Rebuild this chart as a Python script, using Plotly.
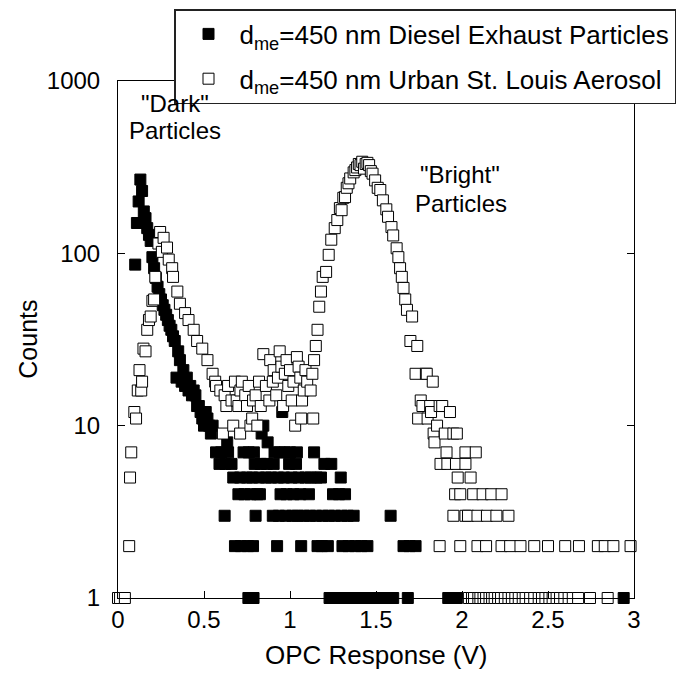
import plotly.graph_objects as go

# Diesel exhaust particles (d_me = 450 nm): OPC response (V) and counts per channel
diesel_v = [
    0.100, 0.110, 0.120, 0.130, 0.140, 0.150, 0.160, 0.170, 0.180, 0.190,
    0.200, 0.210, 0.220, 0.230, 0.240, 0.250, 0.260, 0.270, 0.280, 0.290,
    0.300, 0.310, 0.320, 0.330, 0.340, 0.350, 0.360, 0.370, 0.380, 0.390,
    0.400, 0.410, 0.420, 0.430, 0.440, 0.450, 0.460, 0.470, 0.480, 0.490,
    0.500, 0.510, 0.520, 0.530, 0.540, 0.550,
    0.570, 0.590, 0.600, 0.620, 0.625, 0.635, 0.640, 0.660, 0.670, 0.680,
    0.700, 0.710, 0.715, 0.730, 0.735, 0.750, 0.755, 0.758, 0.760, 0.770,
    0.780, 0.785, 0.788, 0.790, 0.795, 0.800, 0.810, 0.820, 0.825, 0.830,
    0.835, 0.845, 0.860, 0.865, 0.870, 0.890, 0.900, 0.905, 0.910, 0.925,
    0.930, 0.935, 0.940, 0.945, 0.955, 0.965, 0.970, 0.975, 0.980, 0.995,
    1.000, 1.010, 1.015, 1.020, 1.035, 1.040, 1.045, 1.050, 1.060, 1.065,
    1.080, 1.090, 1.110, 1.115, 1.120, 1.140, 1.150, 1.155, 1.160, 1.180,
    1.185, 1.190, 1.200, 1.220, 1.225, 1.230, 1.240, 1.250, 1.260, 1.270,
    1.285, 1.295, 1.300, 1.305, 1.310, 1.320, 1.335, 1.340, 1.350, 1.370,
    1.380, 1.390, 1.415, 1.430, 1.450, 1.470, 1.510, 1.550, 1.585, 1.600,
    1.660, 1.685, 1.695, 1.730, 1.920, 1.945, 1.970, 2.940,
]
diesel_counts = [
    86, 150, 200, 268, 230, 175, 160, 140, 128, 118,
    95, 82, 72, 64, 58, 54, 50, 47, 44, 41,
    38, 36, 33, 31, 19, 27, 24, 18, 21, 17,
    19, 16, 17, 15, 16, 15, 13, 13, 12, 11,
    10, 12, 11, 10, 9, 10,
    7, 6, 7, 3, 6, 8, 7, 6, 5, 2,
    4, 5, 2, 7, 4, 5, 2, 1, 7, 4,
    5, 2, 1, 7, 6, 3, 4, 5, 4, 6,
    9, 10, 5, 6, 8, 5, 3, 6, 7, 2,
    5, 3, 7, 4, 12, 5, 7, 3, 4, 6,
    7, 5, 3, 4, 6, 7, 3, 5, 4, 2,
    3, 5, 4, 3, 5, 7, 3, 5, 2, 5,
    2, 3, 6, 2, 3, 1, 6, 4, 3, 1,
    4, 5, 3, 2, 1, 4, 3, 2, 1, 3,
    2, 1, 2, 1, 2, 1, 1, 1, 3, 1,
    2, 1, 2, 2, 1, 1, 1, 1,
]

# Urban St. Louis aerosol (d_me = 450 nm): OPC response (V) and counts per channel
urban_v = [
    0.000, 0.012, 0.040, 0.065, 0.070, 0.077, 0.095, 0.105, 0.115, 0.125,
    0.135, 0.140, 0.148, 0.160, 0.170, 0.180, 0.190, 0.200, 0.210, 0.217,
    0.235, 0.245, 0.255, 0.265, 0.285, 0.295, 0.315, 0.320, 0.345, 0.360,
    0.390, 0.410, 0.440, 0.460, 0.490, 0.520, 0.550, 0.565, 0.570, 0.595,
    0.610, 0.620, 0.630, 0.640, 0.660, 0.670, 0.680, 0.690, 0.700, 0.710,
    0.712, 0.720, 0.740, 0.750, 0.760, 0.770, 0.780, 0.785, 0.800, 0.810,
    0.820, 0.830, 0.845, 0.860, 0.880, 0.885, 0.900, 0.905, 0.920, 0.930,
    0.940, 0.950, 0.960, 0.970, 0.980, 0.990, 1.000, 1.010, 1.020, 1.030,
    1.040, 1.050, 1.060, 1.065, 1.070, 1.080, 1.090, 1.100, 1.120, 1.130,
    1.135, 1.140, 1.150, 1.160, 1.170, 1.180, 1.190, 1.210, 1.225, 1.240,
    1.260, 1.275, 1.290, 1.300, 1.310, 1.320, 1.330, 1.340, 1.350, 1.370,
    1.380, 1.390, 1.400, 1.410, 1.420, 1.430, 1.440, 1.450, 1.460, 1.470,
    1.480, 1.495, 1.510, 1.525, 1.540, 1.560, 1.570, 1.590, 1.600, 1.620,
    1.630, 1.640, 1.650, 1.660, 1.670, 1.680, 1.700, 1.710, 1.730, 1.740,
    1.745, 1.760, 1.770, 1.790, 1.795, 1.800, 1.815, 1.820, 1.830, 1.835,
    1.840, 1.855, 1.870, 1.870, 1.875, 1.885, 1.900, 1.910, 1.915, 1.930,
    1.950, 1.950, 1.960, 1.965, 1.970, 1.975, 1.990, 1.990, 2.020, 2.020,
    2.020, 2.035, 2.040, 2.050, 2.058, 2.065, 2.070, 2.080, 2.090, 2.090,
    2.095, 2.107, 2.120, 2.125, 2.140, 2.140, 2.145, 2.160, 2.170, 2.175,
    2.190, 2.200, 2.210, 2.227, 2.230, 2.230, 2.249, 2.270, 2.270, 2.280,
    2.290, 2.310, 2.330, 2.340, 2.353, 2.370, 2.396, 2.420, 2.420, 2.446,
    2.465, 2.485, 2.500, 2.508, 2.527, 2.550, 2.570, 2.595, 2.600, 2.620,
    2.644, 2.675, 2.680, 2.744, 2.790, 2.830, 2.847, 2.880, 2.980,
]
urban_counts = [
    1, 1, 1, 2, 5, 7, 12, 11, 16, 21,
    16, 18, 28, 27, 36, 41, 43, 53, 54, 73,
    114, 133, 102, 123, 108, 92, 82, 73, 60, 51,
    45, 41, 36, 31, 28, 24, 20, 18, 17, 16,
    9, 15, 13, 17, 14, 10, 18, 14, 13, 9,
    16, 18, 15, 13, 17, 10, 11, 14, 15, 10,
    18, 13, 26, 17, 14, 24, 18, 21, 15, 19,
    27, 22, 13, 20, 24, 17, 21, 14, 18, 10,
    25, 22, 19, 11, 14, 16, 21, 18, 16, 20,
    11, 24, 29, 36, 49, 60, 73, 78, 98, 120,
    140, 156, 183, 178, 210, 212, 240, 255, 272, 295,
    304, 315, 330, 325, 340, 310, 330, 335, 325, 300,
    290, 265, 240, 233, 203, 180, 163, 142, 127, 107,
    95, 82, 73, 63, 54, 47, 31, 43, 20, 29,
    11, 14, 13, 20, 20, 11, 13, 12, 18, 9,
    8, 10, 13, 2, 6, 13, 9, 7, 6, 12,
    9, 3, 4, 6, 9, 5, 4, 2, 7, 6,
    3, 3, 1, 5, 1, 4, 1, 7, 3, 2,
    1, 1, 4, 1, 1, 2, 3, 1, 4, 1,
    1, 3, 1, 1, 4, 2, 1, 1, 3, 2,
    1, 1, 1, 2, 1, 1, 1, 1, 2, 1,
    1, 1, 2, 1, 1, 1, 1, 1, 2, 1,
    1, 1, 2, 1, 2, 2, 1, 2, 2,
]

x_ticks = [0, 0.5, 1, 1.5, 2, 2.5, 3]
x_tick_text = ["0", "0.5", "1", "1.5", "2", "2.5", "3"]
y_ticks = [1, 10, 100, 1000]
y_tick_text = ["1", "10", "100", "1000"]

FONT = "Liberation Sans, Arial, Helvetica, sans-serif"

fig = go.Figure()
fig.add_trace(go.Scatter(
    x=diesel_v, y=diesel_counts, mode="markers",
    name="d<sub>me</sub>=450 nm Diesel Exhaust Particles",
    legendgroup="diesel",
    marker=dict(symbol="square", size=11, color="black",
                line=dict(color="black", width=1)),
    cliponaxis=False,
))
fig.add_trace(go.Scatter(
    x=urban_v, y=urban_counts, mode="markers",
    name="d<sub>me</sub>=450 nm Urban St. Louis Aerosol",
    legendgroup="urban",
    marker=dict(symbol="square", size=11, color="white",
                line=dict(color="black", width=1)),
    cliponaxis=False,
))

axis_common = dict(
    showline=True, linecolor="black", linewidth=1, mirror="ticks",
    ticks="inside", ticklen=7, tickwidth=1, tickcolor="black",
    showgrid=False, zeroline=False, automargin=False,
    tickfont=dict(family=FONT, size=24, color="black"),
)

fig.update_xaxes(
    range=[0, 3], tickvals=x_ticks, ticktext=x_tick_text,
    ticklabelstandoff=0,
    **axis_common,
)
fig.update_yaxes(
    type="log", range=[0, 3], tickvals=y_ticks, ticktext=y_tick_text,
    ticklabelstandoff=12,
    **axis_common,
)

# axis titles
fig.add_annotation(
    text="OPC Response (V)", xref="paper", yref="paper",
    x=0.5, y=-0.110, xanchor="center", yanchor="middle", showarrow=False,
    font=dict(family=FONT, size=26, color="black"),
)
fig.add_annotation(
    text="Counts", xref="paper", yref="paper", textangle=-90,
    x=-0.176, y=0.5, xanchor="center", yanchor="middle", showarrow=False,
    font=dict(family=FONT, size=25, color="black"),
)

# peak labels, one line each
peak_labels = [
    ('"Dark"', 0.1105, 0.9574),
    ("Particles", 0.1105, 0.9052),
    ('"Bright"', 0.6628, 0.8182),
    ("Particles", 0.6647, 0.7640),
]
for text, px, py in peak_labels:
    fig.add_annotation(
        text=text, xref="paper", yref="paper", x=px, y=py,
        xanchor="center", yanchor="middle", showarrow=False,
        font=dict(family=FONT, size=24, color="black"),
    )

fig.update_layout(
    width=678, height=673,
    margin=dict(l=118, r=44, t=81, b=75, autoexpand=False),
    paper_bgcolor="white", plot_bgcolor="white",
    font=dict(family=FONT, size=24, color="black"),
    showlegend=True,
    legend=dict(
        xref="container", yref="container",
        x=174 / 678, y=1 - 9 / 673, xanchor="left", yanchor="top",
        bgcolor="white", bordercolor="#222", borderwidth=1.5,
        font=dict(family=FONT, size=26, color="black"),
        tracegroupgap=8, indentation=2, itemwidth=52,
    ),
)

fig.write_html("out.html")
